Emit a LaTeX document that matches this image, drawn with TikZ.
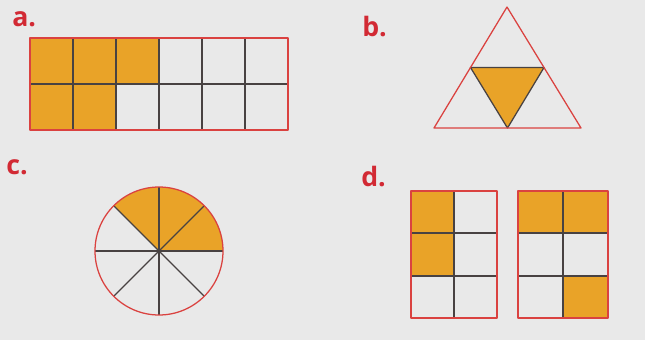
\documentclass[tikz,border=0pt]{standalone}
\usepackage{fontspec}
\setsansfont{Open Sans}
\usetikzlibrary{calc}
\definecolor{pagebg}{RGB}{233,233,233}
\definecolor{orangefill}{RGB}{233,163,40}
\definecolor{rimred}{RGB}{218,66,64}
\definecolor{tagred}{RGB}{210,42,52}
\definecolor{cutgray}{RGB}{72,66,66}
\tikzset{
  parttag/.style = {anchor=base west, inner sep=0pt, text=tagred,
    font=\sffamily\bfseries\fontsize{19}{21}\selectfont},
  rim/.style = {draw=rimred, line width=0.9pt},
  cut/.style = {draw=cutgray, line width=0.9pt},
}
\begin{document}
\begin{tikzpicture}[x=0.25mm, y=-0.25mm, line join=round]
	\fill[pagebg] (0,0) rectangle (645,340);
	\useasboundingbox (0,0) rectangle (645,340);
	% a.
	\node[parttag] (taga) at (12,26) {a.};
	\fill[orangefill] (30,38) rectangle (159,84);
	\fill[orangefill] (30,84) rectangle (116,130);
	\foreach \x in {73,116,159,202,245}
		\draw[cut] (\x,38) -- (\x,130);
	\draw[cut] (30,84) -- (288,84);
	\draw[rim] (30,38) rectangle (288,130);
	% b.
	\node[parttag] (tagb) at (362,37) {b.};
	\coordinate (top) at (507,7);
	\coordinate (left) at (434,128);
	\coordinate (right) at (581,128);
	\filldraw[fill=orangefill, cut] ($(top)!0.5!(left)$) -- ($(top)!0.5!(right)$) -- ($(left)!0.5!(right)$) -- cycle;
	\draw[rim] (top) -- (left) -- (right) -- cycle;
	% c.
	\node[parttag] (tagc) at (6,174) {c.};
	\coordinate (hub) at (159,251);
	\fill[orangefill] (hub) -- ++(0:64) arc[start angle=0, end angle=-135, radius=64] -- cycle;
	\foreach \a in {0,45,...,315}
		\draw[cut] (hub) -- ++(\a:64);
	\fill[cutgray] (hub) circle[radius=2];
	\draw[rim] (hub) circle[radius=64];
	% d.
	\node[parttag] (tagd) at (361,186) {d.};
	\fill[orangefill] (411,191) rectangle (454,276);
	\fill[orangefill] (518,191) rectangle (608,233);
	\fill[orangefill] (563,276) rectangle (608,318);
	\draw[cut] (454,191) -- (454,318);
	\draw[cut] (563,191) -- (563,318);
	\foreach \y in {233,276} {
		\draw[cut] (411,\y) -- (497,\y);
		\draw[cut] (518,\y) -- (608,\y);
	}
	\draw[rim] (411,191) rectangle (497,318);
	\draw[rim] (518,191) rectangle (608,318);
\end{tikzpicture}
\end{document}
